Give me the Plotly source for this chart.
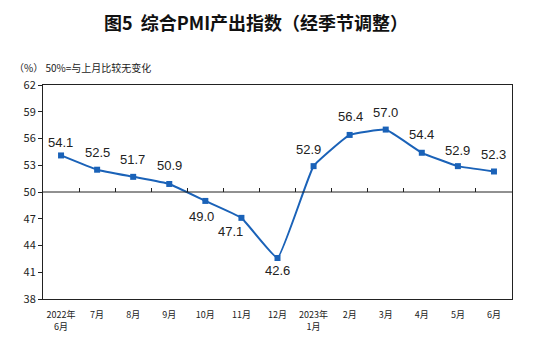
import plotly.graph_objects as go

months = ["2022年<br>6月", "7月", "8月", "9月", "10月", "11月", "12月", "2023年<br>1月",
          "2月", "3月", "4月", "5月", "6月"]
values = [54.1, 52.5, 51.7, 50.9, 49.0, 47.1, 42.6, 52.9, 56.4, 57.0, 54.4, 52.9, 52.3]
y_ticks = [38, 41, 44, 47, 50, 53, 56, 59, 62]

# label offsets (style): (xshift, yshift) in px
label_shift = [(-1, 13), (0, 17), (-1, 17), (0, 18), (-4, -16), (-11, -14), (0, -13),
               (-5, 17), (1, 18), (0, 17), (0, 18), (0, 16), (0, 17)]

LINE = "#1a62b8"
FONT = "Noto Sans CJK SC"
x = list(range(len(values)))

fig = go.Figure()
fig.add_trace(go.Scatter(
    x=x, y=values, mode="lines+markers",
    line=dict(color=LINE, width=2, shape="spline", smoothing=0.3),
    marker=dict(symbol="square", size=6, color=LINE),
    showlegend=False, hoverinfo="skip"))
# invisible trace for overlay axis carrying the 50-line ticks
fig.add_trace(go.Scatter(x=[x[0]], y=[50], xaxis="x2", mode="markers",
                         marker=dict(opacity=0), showlegend=False, hoverinfo="skip"))

for xi, v, (dx, dy) in zip(x, values, label_shift):
    fig.add_annotation(x=xi, y=v, text=f"{v:.1f}", showarrow=False,
                       xshift=dx, yshift=dy,
                       font=dict(family="Arial, Liberation Sans", size=13, color="#222"))

fig.add_shape(type="line", xref="paper", yref="y", x0=0, x1=1, y0=50, y1=50,
              line=dict(color="#222", width=1))

fig.update_layout(
    width=554, height=345,
    margin=dict(l=43, r=42, t=85, b=46),
    plot_bgcolor="white", paper_bgcolor="white",
    font=dict(family=FONT, color="#222"),
    xaxis=dict(range=[-0.5, len(values) - 0.5], tickvals=x, ticktext=months,
               showline=True, linecolor="#222", linewidth=1, mirror=True,
               ticks="", showgrid=False, zeroline=False, ticklabelstandoff=7,
               tickfont=dict(size=9, family=FONT, color="#222")),
    xaxis2=dict(overlaying="x", anchor="free", position=0.5, side="top",
                range=[-0.5, len(values) - 0.5],
                tickvals=[i + 0.5 for i in x[:-1]], ticks="outside", ticklen=4,
                tickcolor="#222", showticklabels=False, showgrid=False,
                zeroline=False, showline=False),
    yaxis=dict(range=[38, 62], tickvals=y_ticks, ticks="outside", ticklen=4,
               tickcolor="#222", showline=True, linecolor="#222", linewidth=1,
               mirror=True, showgrid=False, zeroline=False,
               tickfont=dict(size=11, family=FONT, color="#222")),
    annotations=list(fig.layout.annotations) + [
        dict(text="<b>图5  综合PMI产出指数（经季节调整）</b>", xref="paper", yref="paper",
             x=(256 - 43) / 469, y=1 + (85 - 22) / 214, xanchor="center", yanchor="middle",
             showarrow=False, font=dict(size=18, family=FONT, color="#111")),
        dict(text="（%） 50%=与上月比较无变化", xref="paper", yref="paper",
             x=(12 - 43) / 469, y=1 + (85 - 68) / 214, xanchor="left", yanchor="middle",
             showarrow=False, font=dict(size=10, family=FONT, color="#222")),
    ],
)

fig.write_html("out.html")
